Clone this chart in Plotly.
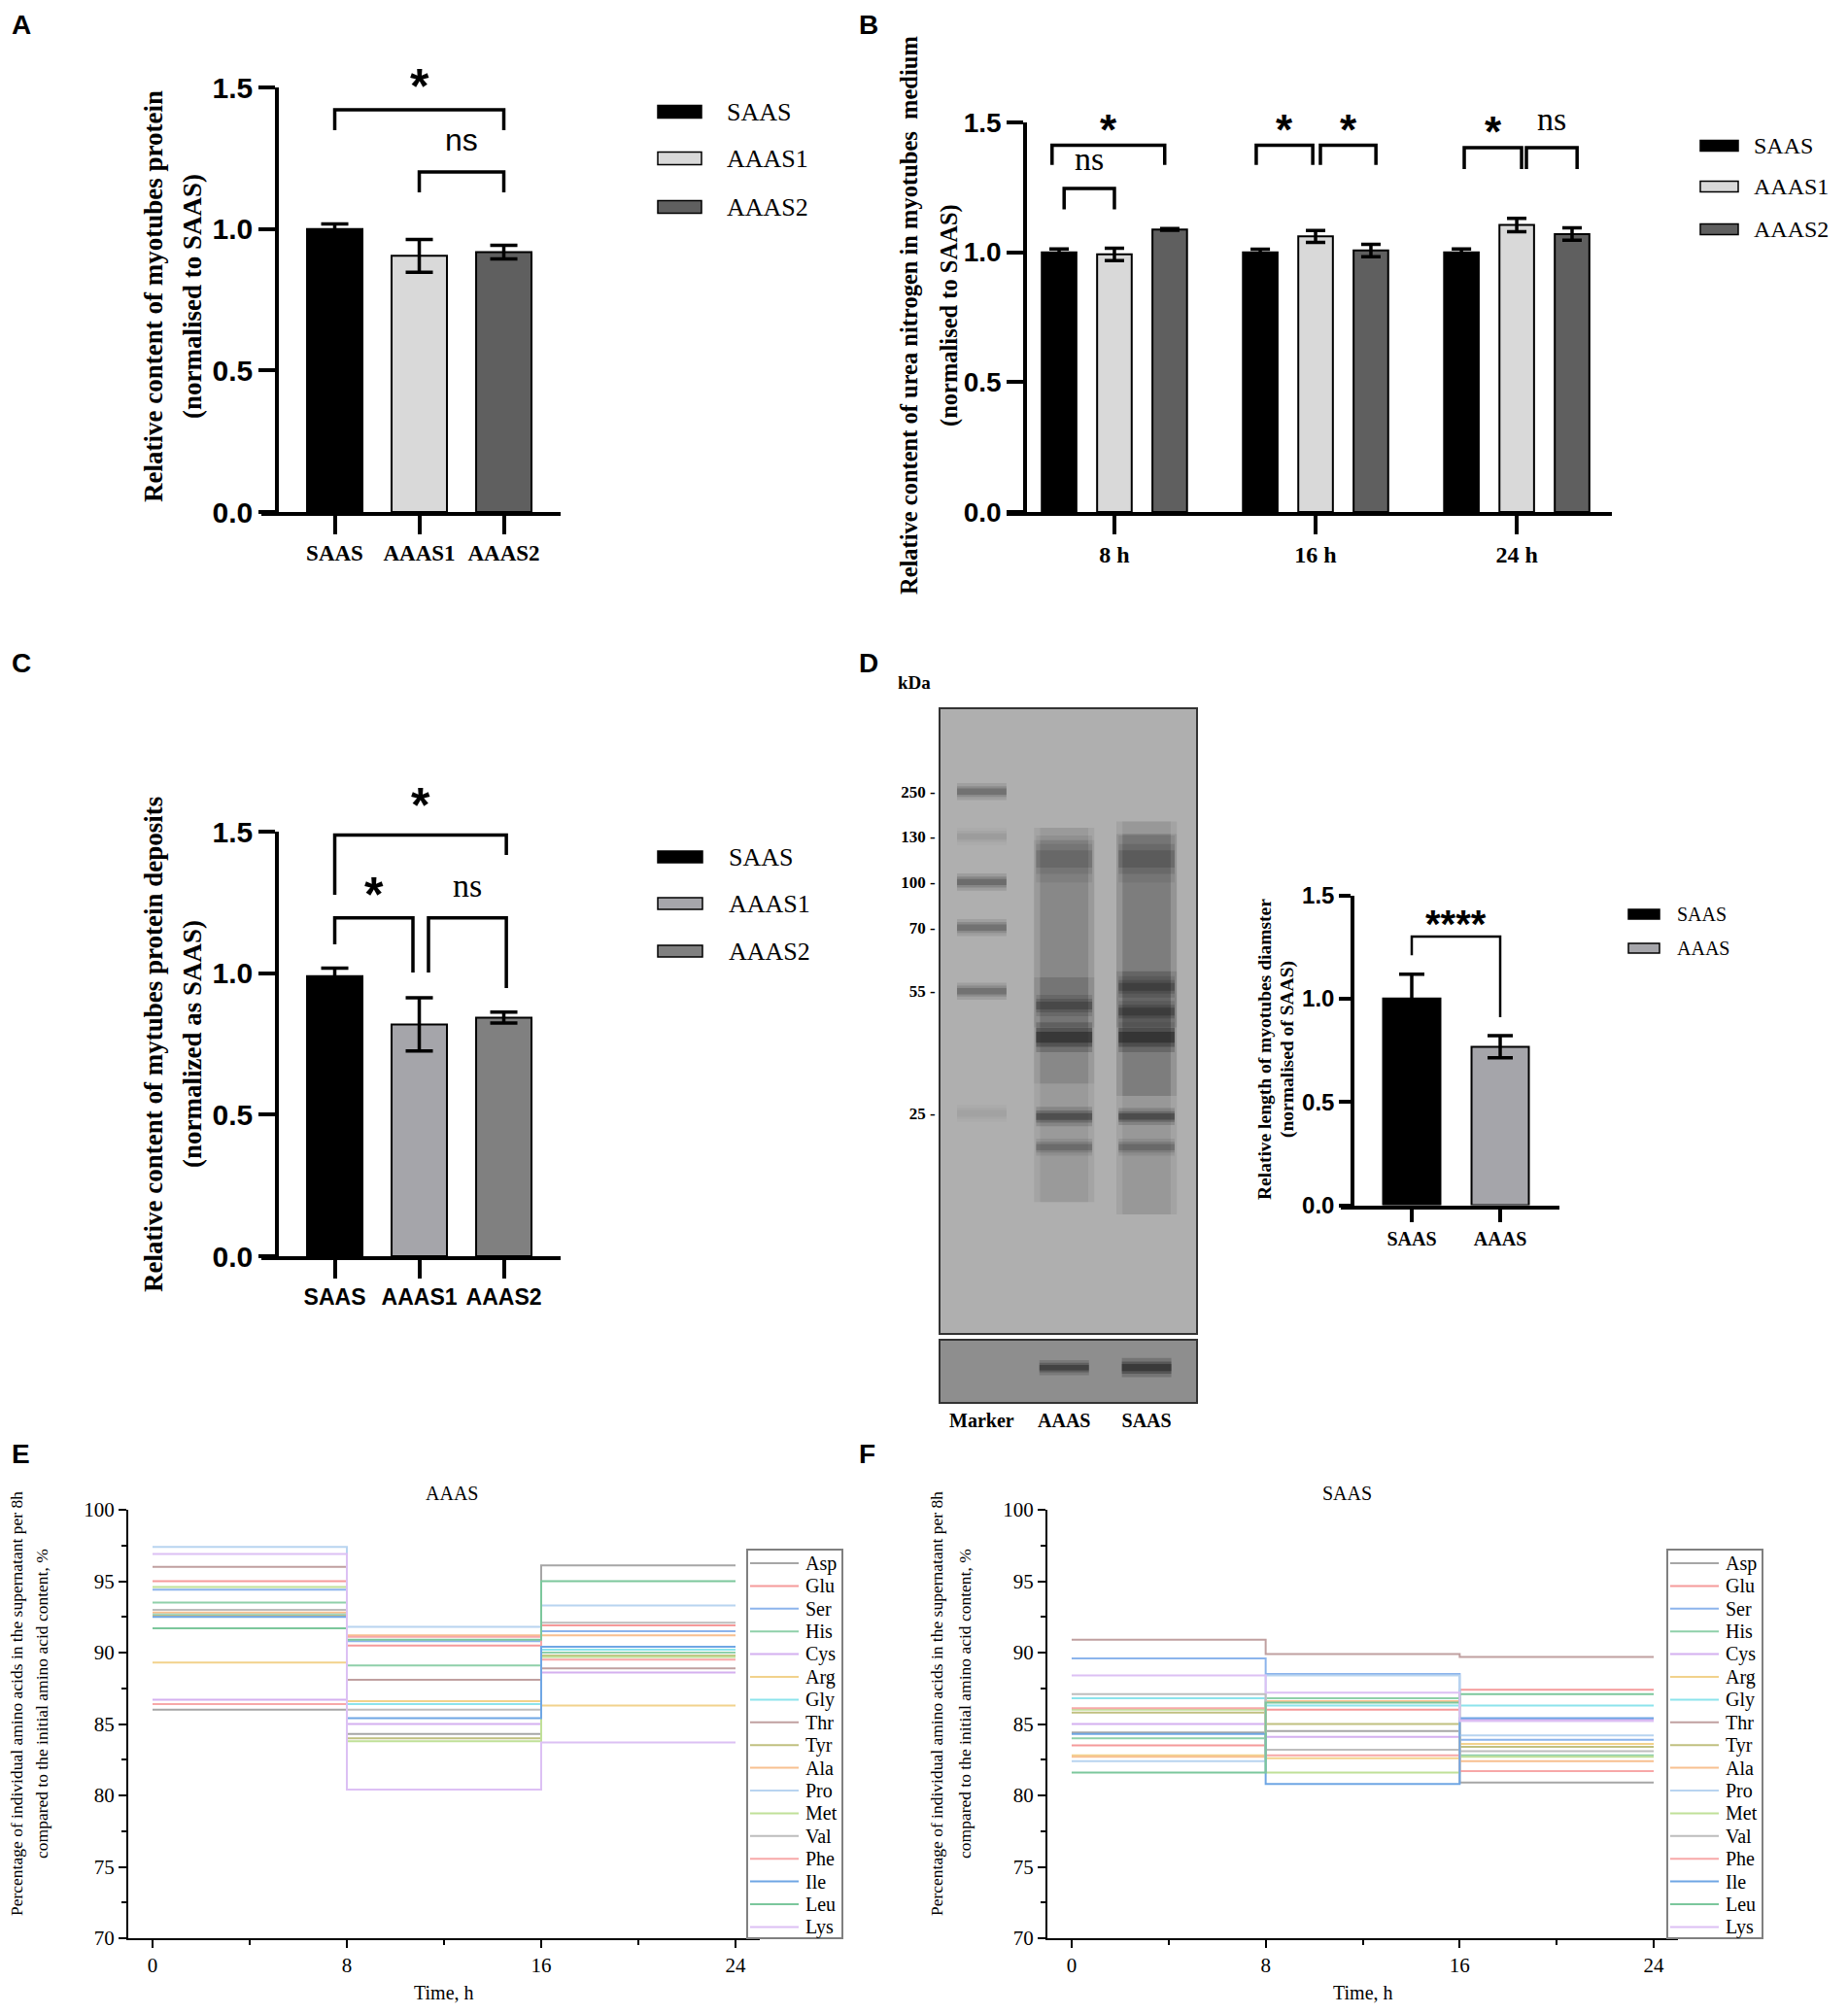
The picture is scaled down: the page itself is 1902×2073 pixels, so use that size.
import plotly.graph_objects as go

# the page body has an 8px margin, so the figure is drawn 8px smaller and offset
W, H = 1902, 2073
PAGE_PAD = 8
FW, FH = W - PAGE_PAD, H - PAGE_PAD
SANS = "Liberation Sans, Arial, sans-serif"
SERIF = "Liberation Serif, Times New Roman, serif"

# ---------------- data ----------------
# A: myotube protein
A_GROUPS = ["SAAS", "AAAS1", "AAAS2"]
A_MEAN = [1.000, 0.905, 0.918]
A_SEM = [0.018, 0.058, 0.024]
A_COLORS = ["#000000", "#d9d9d9", "#5f5f5f"]

# B: urea nitrogen in medium
B_TIMES = ["8 h", "16 h", "24 h"]
B_SERIES = ["SAAS", "AAAS1", "AAAS2"]
B_MEAN = [[1.000, 1.000, 1.000],
          [0.992, 1.061, 1.105],
          [1.088, 1.007, 1.070]]
B_SEM = [[0.013, 0.012, 0.013],
         [0.024, 0.023, 0.026],
         [0.003, 0.024, 0.024]]
B_COLORS = ["#000000", "#d9d9d9", "#5f5f5f"]

# C: protein deposits
C_GROUPS = ["SAAS", "AAAS1", "AAAS2"]
C_MEAN = [0.989, 0.819, 0.843]
C_SEM = [0.029, 0.094, 0.019]
C_COLORS = ["#000000", "#a5a5aa", "#808080"]

# D: myotube diameter
D_GROUPS = ["SAAS", "AAAS"]
D_MEAN = [1.000, 0.767]
D_SEM = [0.118, 0.053]
D_COLORS = ["#000000", "#a5a5aa"]

# D: western blot (migration in % of gel height)
BLOT_LANES = ["Marker", "AAAS", "SAAS"]
MARKER_KDA = [250, 130, 100, 70, 55, 25]
MARKER_POS = [13.2, 20.4, 27.7, 35.0, 45.2, 64.8]
MARKER_INT = [0.45, 0.12, 0.50, 0.45, 0.45, 0.08]
SMEAR_LANE = [1, 1, 1, 2, 2, 2]
SMEAR_TOP = [19, 21, 43, 18, 20, 42]
SMEAR_BOTTOM = [79, 60, 51, 81, 62, 51]
SMEAR_INT = [0.12, 0.12, 0.16, 0.13, 0.18, 0.22]
BAND_LANE = [1, 1, 1, 1, 1, 2, 2, 2, 2, 2, 2]
BAND_POS = [24.0, 47.5, 52.6, 65.3, 70.2, 24.0, 44.5, 48.5, 52.6, 65.3, 70.2]
BAND_INT = [0.30, 0.55, 0.95, 0.70, 0.40, 0.35, 0.55, 0.60, 0.95, 0.75, 0.40]
BAND_THICK = [22, 10, 14, 9, 8, 22, 10, 10, 14, 8, 8]
LOWER_LANE = [1, 2]
LOWER_POS = [44, 44]
LOWER_INT = [0.80, 0.95]
LOWER_THICK = [7, 9]

# E / F: amino acids in supernatant
TIME_H = [0, 8, 16, 24]
AMINO_ACIDS = ["Asp", "Glu", "Ser", "His", "Cys", "Arg", "Gly", "Thr", "Tyr",
               "Ala", "Pro", "Met", "Val", "Phe", "Ile", "Leu", "Lys"]
AA_COLORS = ["#a6a6a6", "#f59a9a", "#8cb4ec", "#8fd0aa", "#d4b0f0", "#f2d28c",
             "#8ce4ec", "#c0a0a0", "#c0c080", "#f8c090", "#b8d4f0", "#c0e098",
             "#bdbdbd", "#f7a8a8", "#6fa6e4", "#7cc79c", "#dcc0f4"]
AAAS_0_8 = [86.0, 95.0, 94.4, 93.5, 86.7, 89.3, 92.7, 96.0, 92.6,
            92.8, 97.4, 94.6, 93.0, 86.4, 92.5, 91.7, 96.9]
AAAS_8_16 = [84.3, 90.5, 90.8, 89.1, 85.0, 86.6, 86.4, 88.1, 84.0,
             91.2, 91.8, 83.8, 86.0, 91.1, 85.4, 90.9, 80.4]
AAAS_16_24 = [96.1, 91.9, 91.5, 90.0, 88.6, 86.3, 90.2, 88.9, 89.8,
              91.2, 93.3, 89.7, 92.1, 89.5, 90.4, 95.0, 83.7]
SAAS_0_8 = [84.4, 83.5, 89.6, 84.0, 85.0, 82.8, 86.8, 90.9, 85.8,
            82.7, 82.4, 86.0, 87.1, 86.1, 84.3, 81.6, 88.4]
SAAS_8_16 = [84.5, 86.0, 88.5, 86.8, 84.1, 82.6, 86.3, 89.9, 85.0,
             86.6, 88.4, 81.6, 83.2, 82.8, 80.8, 86.5, 87.2]
SAAS_16_24 = [80.9, 87.4, 83.9, 82.8, 85.3, 83.6, 86.3, 89.7, 83.4,
              82.4, 84.2, 82.7, 83.1, 81.7, 85.4, 87.1, 85.2]


def px(x):
    return (x - PAGE_PAD) / FW


def py(y):
    return 1 - (y - PAGE_PAD) / FH


def ax_name(kind, n):
    return kind if n == 1 else f"{kind}{n}"


def ref(kind, n):
    return kind if n == 1 else f"{kind}{n}"


fig = go.Figure()
layout_axes = {}
annotations = []
shapes = []
panel_y = {}  # pixel position of y=0 and y=1.5 per bar panel


def note(x, y, text, font, **kw):
    d = dict(x=x, y=y, xref="paper", yref="paper", text=text, showarrow=False,
             xanchor="center", yanchor="middle", font=font)
    d.update(kw)
    annotations.append(d)


def bar_panel_axes(n, xdom, xrange, ydom, ypos, tickvals, ticktext, xfont, yfont_size, xticklen=19):
    panel_y[n] = ydom
    layout_axes[ax_name("xaxis", n)] = dict(
        domain=[px(xdom[0]), px(xdom[1])], range=xrange, anchor=ref("y", n), automargin=False,
        tickvals=tickvals, ticktext=ticktext, ticks="outside", ticklen=xticklen,
        tickwidth=3.5, tickcolor="black", showline=True, linewidth=3.5, linecolor="black",
        showgrid=False, zeroline=False, tickfont=xfont, fixedrange=True)
    layout_axes[ax_name("yaxis", n)] = dict(
        domain=[py(ydom[0]), py(ydom[1])], range=[0, 1.5], anchor="free", position=px(ypos),
        automargin=False, tickvals=[0, 0.5, 1.0, 1.5], ticktext=["0.0", "0.5", "1.0", "1.5"],
        ticks="outside", ticklen=17 if yfont_size > 25 else 12, tickwidth=3.5, tickcolor="black",
        showline=True, linewidth=3.5, linecolor="black", showgrid=False, zeroline=False,
        tickfont=dict(family=SANS, size=yfont_size, color="black", weight="bold"), fixedrange=True)


def add_bracket(n, x1, x2, top, leg1, leg2, text, text_y, font, width=3.5, shift=0.0):
    fig.add_trace(go.Scatter(
        x=[x1, x1, x2, x2], y=[leg1, top, top, leg2], mode="lines",
        line=dict(color="black", width=width), xaxis=ref("x", n), yaxis=ref("y", n),
        showlegend=False, hoverinfo="skip"))
    # label in paper coordinates so it may sit above the axis range
    y0, y1 = panel_y[n]
    ypix = y0 + (y1 - y0) * text_y / 1.5
    annotations.append(dict(
        x=(x1 + x2) / 2, y=py(ypix), xref=ref("x", n), yref="paper", text=text,
        showarrow=False, font=font, xanchor="center", yanchor="middle", yshift=shift))


def bar_legend(names, colors, x_box, x_text, ys, box_w, box_h, font):
    for name, col, y in zip(names, colors, ys):
        shapes.append(dict(type="rect", xref="paper", yref="paper",
                           x0=px(x_box), x1=px(x_box + box_w), y0=py(y + box_h / 2), y1=py(y - box_h / 2),
                           fillcolor=col, line=dict(color="black", width=1.5)))
        note(px(x_text), py(y), name, font, xanchor="left")


def y_title(lines, xs, yc, size, bold=True):
    for t, x in zip(lines, xs):
        note(px(x), py(yc), t, dict(family=SERIF, size=size, color="black",
                                    weight="bold" if bold else "normal"), textangle=-90)


def sem_bar(n, x, y, err, colors, width, cap):
    fig.add_trace(go.Bar(
        x=x, y=y, width=width, marker=dict(color=colors, line=dict(color="black", width=2)),
        error_y=dict(type="data", array=err, visible=True, color="black", thickness=3.5, width=cap),
        xaxis=ref("x", n), yaxis=ref("y", n), showlegend=False, hoverinfo="skip"))


star_font = dict(family=SANS, size=50, color="black", weight="bold")

# ---------------- Panel A ----------------
bar_panel_axes(1, (269, 577), [-0.868, 2.672], (527, 90), 285, [0, 1, 2], A_GROUPS,
               dict(family=SERIF, size=23, color="black", weight="bold"), 30)
sem_bar(1, [0, 1, 2], A_MEAN, A_SEM, A_COLORS, 0.655, 14)
add_bracket(1, 0, 2, 1.421, 1.349, 1.349, "*", 1.524, star_font, shift=-6)
add_bracket(1, 1, 2, 1.201, 1.129, 1.129, "ns", 1.308, dict(family=SANS, size=32, color="black"), shift=2)
bar_legend(A_GROUPS, A_COLORS, 677, 746, [115, 163, 213], 45, 13,
           dict(family=SERIF, size=26, color="black"))
y_title(["Relative content of myotubes protein", "(normalised to SAAS)"], [158, 198], 305, 27)

# ---------------- Panel B ----------------
B_OFFSET = [-0.275, 0.0, 0.275]
bar_panel_axes(2, (1036, 1659), [-0.536, 2.473], (527, 126), 1055, [0, 1, 2], B_TIMES,
               dict(family=SERIF, size=24, color="black", weight="bold"), 28)
for i, s in enumerate(B_SERIES):
    sem_bar(2, [g + B_OFFSET[i] for g in range(len(B_TIMES))], B_MEAN[i], B_SEM[i],
            B_COLORS[i], 0.172, 10)
bstar = dict(family=SANS, size=44, color="black", weight="bold")
bns = dict(family=SERIF, size=34, color="black")
add_bracket(2, -0.31, 0.25, 1.412, 1.336, 1.336, "*", 1.50, bstar, shift=-7)
add_bracket(2, -0.25, 0.0, 1.246, 1.165, 1.165, "ns", 1.343, bns, shift=4)
add_bracket(2, 0.705, 0.986, 1.412, 1.336, 1.336, "*", 1.50, bstar, shift=-7)
add_bracket(2, 1.024, 1.30, 1.412, 1.336, 1.336, "*", 1.50, bstar, shift=-7)
add_bracket(2, 1.739, 2.024, 1.403, 1.32, 1.32, "*", 1.49, bstar, shift=-7)
add_bracket(2, 2.048, 2.30, 1.403, 1.32, 1.32, "ns", 1.50, bns, shift=4)
bar_legend(B_SERIES, B_COLORS, 1750, 1803, [150, 192, 236], 39, 11,
           dict(family=SERIF, size=24, color="black"))
y_title(["Relative content of urea nitrogen in myotubes  medium", "(normalised to SAAS)"],
        [936, 977], 325, 24.5)

# ---------------- Panel C ----------------
bar_panel_axes(3, (269, 577), [-0.868, 2.672], (1293, 856), 285, [0, 1, 2], C_GROUPS,
               dict(family=SANS, size=23, color="black", weight="bold"), 30)
sem_bar(3, [0, 1, 2], C_MEAN, C_SEM, C_COLORS, 0.655, 14)
cns = dict(family=SERIF, size=34, color="black")
add_bracket(3, 0, 2.03, 1.488, 1.277, 1.418, "*", 1.613, star_font, shift=-6)
add_bracket(3, 0, 0.925, 1.195, 1.102, 1.002, "*", 1.298, star_font, shift=-6)
add_bracket(3, 1.109, 2.03, 1.195, 1.002, 0.947, "ns", 1.291, cns, shift=5)
bar_legend(C_GROUPS, C_COLORS, 677, 748, [882, 930, 979], 46, 12,
           dict(family=SERIF, size=26, color="black"))
y_title(["Relative content of mytubes protein deposits", "(normalized as SAAS)"], [158, 198], 1075, 27)

# ---------------- Panel D (bar) ----------------
bar_panel_axes(4, (1380, 1605), [-0.802, 1.67], (1240.5, 921.5), 1392, [0, 1], D_GROUPS,
               dict(family=SERIF, size=20, color="black", weight="bold"), 24, xticklen=14)
sem_bar(4, [0, 1], D_MEAN, D_SEM, D_COLORS, 0.648, 13)
add_bracket(4, 0, 1, 1.30, 1.21, 0.91, "****", 1.389,
            dict(family=SANS, size=40, color="black", weight="bold"), width=2.5, shift=-6)
bar_legend(D_GROUPS, D_COLORS, 1676, 1724, [941, 976], 32, 10,
           dict(family=SERIF, size=20, color="black"))
y_title(["Relative length of myotubes diamster", "(normalised of SAAS)"], [1301, 1325], 1080, 19.5)

# ---------------- Panel D (blot) ----------------
for n, ydom in ((7, (1372, 730)), (8, (1443, 1380))):
    layout_axes[ax_name("xaxis", n)] = dict(
        domain=[px(968), px(1231)], range=[-0.5, 2.6], anchor=ref("y", n), automargin=False,
        showline=True, mirror=True, linecolor="#333333", linewidth=2, showgrid=False,
        zeroline=False, ticks="", showticklabels=(n == 8), tickvals=[0, 1, 2], ticktext=BLOT_LANES,
        tickfont=dict(family=SERIF, size=20, color="black", weight="bold"), fixedrange=True)
    layout_axes[ax_name("yaxis", n)] = dict(
        domain=[py(ydom[0]), py(ydom[1])], range=[100, 0], anchor=ref("x", n), automargin=False,
        showline=True, mirror=True, linecolor="#333333", linewidth=2, showgrid=False,
        zeroline=False, ticks="", showticklabels=(n == 7),
        tickvals=MARKER_POS, ticktext=[f"{k} -" for k in MARKER_KDA],
        tickfont=dict(family=SERIF, size=17, color="black", weight="bold"), fixedrange=True)
    shapes.append(dict(type="rect", xref=f"x{n} domain", yref=f"y{n} domain", x0=0, x1=1, y0=0, y1=1,
                       fillcolor="#afafaf" if n == 7 else "#8e8e8e", line=dict(width=0), layer="below"))


def soft_line(n, xs, ys, alpha, thick):
    # three stacked strokes give a blurred edge, like a scanned blot
    for k_w, k_a in ((2.2, 0.22), (1.4, 0.32), (0.8, 0.45)):
        fig.add_trace(go.Scatter(
            x=xs, y=ys, mode="lines",
            line=dict(color=f"rgba(20,20,20,{alpha * k_a:.3f})", width=thick * k_w),
            xaxis=ref("x", n), yaxis=ref("y", n), showlegend=False, hoverinfo="skip"))


for lane, top, bot, a in zip(SMEAR_LANE, SMEAR_TOP, SMEAR_BOTTOM, SMEAR_INT):
    for k_w, k_a in ((1.0, 0.6), (0.8, 0.6)):
        fig.add_trace(go.Scatter(
            x=[lane, lane], y=[top, bot], mode="lines",
            line=dict(color=f"rgba(30,30,30,{a * k_a:.3f})", width=62 * k_w),
            xaxis="x7", yaxis="y7", showlegend=False, hoverinfo="skip"))
for pos, a in zip(MARKER_POS, MARKER_INT):
    soft_line(7, [-0.3, 0.3], [pos, pos], a, 8)
for lane, pos, a, t in zip(BAND_LANE, BAND_POS, BAND_INT, BAND_THICK):
    soft_line(7, [lane - 0.34, lane + 0.34], [pos, pos], a, t)
for lane, pos, a, t in zip(LOWER_LANE, LOWER_POS, LOWER_INT, LOWER_THICK):
    soft_line(8, [lane - 0.3, lane + 0.3], [pos, pos], a, t)
note(px(941), py(702), "kDa", dict(family=SERIF, size=19, color="black", weight="bold"))

# ---------------- Panels E and F ----------------
step_panels = [
    (5, (132, 782), "AAAS", 465, (AAAS_0_8, AAAS_8_16, AAAS_16_24), [17, 43], 769),
    (6, (1078, 1727), "SAAS", 1386, (SAAS_0_8, SAAS_8_16, SAAS_16_24), [964, 993], 1716),
]
for n, xdom, title, title_x, series, title_xs, leg_x in step_panels:
    layout_axes[ax_name("xaxis", n)] = dict(
        domain=[px(xdom[0]), px(xdom[1])], range=[-1, 25], anchor=ref("y", n), automargin=False,
        tickvals=TIME_H, ticks="outside", ticklen=8, tickwidth=1.5, tickcolor="black",
        minor=dict(tickvals=[4, 12, 20], ticks="outside", ticklen=5, tickwidth=1.5, tickcolor="black"),
        showline=True, linewidth=2, linecolor="black", showgrid=False, zeroline=False,
        tickfont=dict(family=SERIF, size=21, color="black"), fixedrange=True)
    layout_axes[ax_name("yaxis", n)] = dict(
        domain=[py(1995), py(1554)], range=[70, 100], anchor=ref("x", n), automargin=False,
        tickvals=[70, 75, 80, 85, 90, 95, 100], ticks="outside", ticklen=8, tickwidth=1.5,
        tickcolor="black",
        minor=dict(tickvals=[72.5, 77.5, 82.5, 87.5, 92.5, 97.5], ticks="outside", ticklen=5,
                   tickwidth=1.5, tickcolor="black"),
        showline=True, linewidth=2, linecolor="black", showgrid=False, zeroline=False,
        tickfont=dict(family=SERIF, size=21, color="black"), fixedrange=True)
    a1, a2, a3 = series
    for i, aa in enumerate(AMINO_ACIDS):
        fig.add_trace(go.Scatter(
            x=TIME_H, y=[a1[i], a2[i], a3[i], a3[i]], mode="lines", line_shape="hv",
            line=dict(color=AA_COLORS[i], width=2), name=aa, showlegend=False,
            xaxis=ref("x", n), yaxis=ref("y", n), hoverinfo="skip"))
    note(px(title_x), py(1537), title, dict(family=SERIF, size=20, color="black"))
    note(px((xdom[0] + xdom[1]) / 2), py(2051), "Time, h", dict(family=SERIF, size=20, color="black"))
    y_title(["Percentage of individual amino acids in the supernatant per 8h",
             "compared to the initial amino acid content, %"], title_xs, 1754, 17.5, bold=False)

    # legend box drawn by hand (Origin style: long line sample, tight rows)
    shapes.append(dict(type="rect", xref="paper", yref="paper",
                       x0=px(leg_x), x1=px(leg_x + 98), y0=py(1995), y1=py(1595),
                       fillcolor="white", line=dict(color="#808080", width=2)))
    for i, aa in enumerate(AMINO_ACIDS):
        yy = 1609 + i * 23.4
        shapes.append(dict(type="line", xref="paper", yref="paper",
                           x0=px(leg_x + 3), x1=px(leg_x + 53), y0=py(yy), y1=py(yy),
                           line=dict(color=AA_COLORS[i], width=2)))
        note(px(leg_x + 58), py(yy), aa, dict(family=SERIF, size=20, color="black"), xanchor="left")

# ---------------- panel letters ----------------
letter_font = dict(family=SANS, size=28, color="black", weight="bold")
for letter, x in [("A", 10), ("B", 882)]:
    # top row letters hang from the top edge so they are not clipped
    note(px(x), py(PAGE_PAD), letter, letter_font, xanchor="left", yanchor="top")
for letter, x, y in [("C", 10, 682), ("D", 882, 682), ("E", 10, 1496), ("F", 882, 1496)]:
    note(px(x), py(y), letter, letter_font, xanchor="left")

fig.update_layout(
    width=FW, height=FH, margin=dict(l=0, r=0, t=0, b=0, autoexpand=False), showlegend=False,
    paper_bgcolor="white", plot_bgcolor="white", barmode="overlay",
    annotations=annotations, shapes=shapes, **layout_axes)

fig.write_html("out.html")
